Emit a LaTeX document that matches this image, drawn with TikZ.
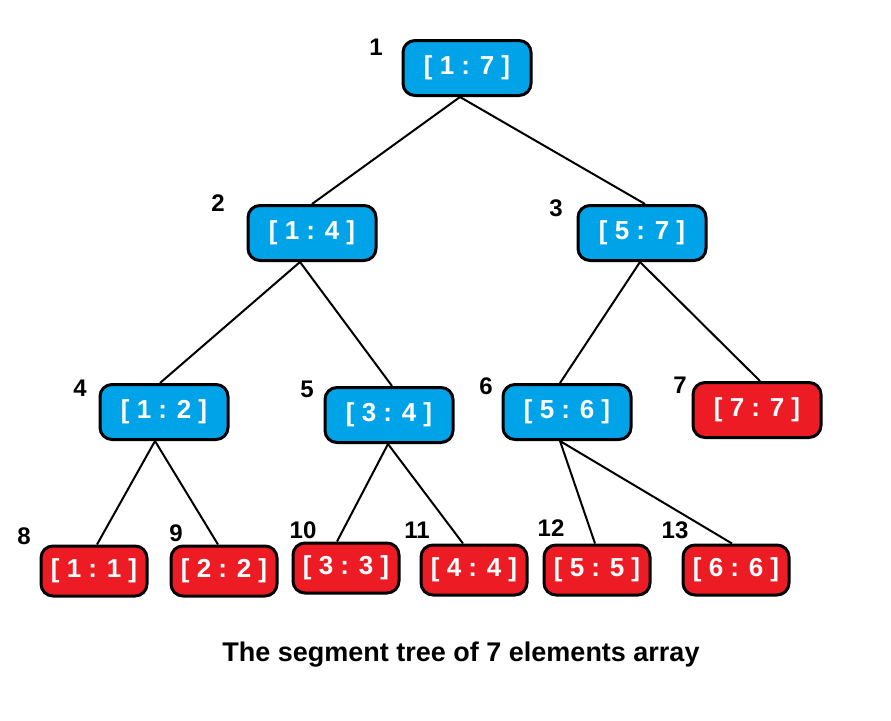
\documentclass[tikz,border=0pt]{standalone}
\usepackage{fontspec}
\setmainfont{Liberation Sans}
\definecolor{segblue}{HTML}{00A2E8}
\definecolor{segred}{HTML}{ED1C24}
\begin{document}
\begin{tikzpicture}[x=1pt,y=-1pt,
  seg/.style={draw=black, line width=3pt, rounded corners=12pt, text=white,
    font=\fontsize{26}{26}\selectfont\bfseries, inner sep=0pt},
  inner/.style={seg, fill=segblue, minimum width=128pt, minimum height=55pt},
  leaf/.style={seg, fill=segred, minimum width=106pt, minimum height=50pt},
  idx/.style={font=\fontsize{24}{24}\selectfont\bfseries, inner sep=0pt},
  edge/.style={line width=2pt, black}]
\useasboundingbox (0,0) rectangle (891,720);
% internal nodes
\node[inner] (n1) at (467,68) {[ 1 : 7 ]};
\node[inner] (n2) at (312,233) {[ 1 : 4 ]};
\node[inner] (n3) at (642,233) {[ 5 : 7 ]};
\node[inner] (n4) at (164,412) {[ 1 : 2 ]};
\node[inner] (n5) at (389,415) {[ 3 : 4 ]};
\node[inner] (n6) at (567,412) {[ 5 : 6 ]};
\node[inner, fill=segred] (n7) at (757,410) {[ 7 : 7 ]};
% leaves
\node[leaf] (n8) at (94,571) {[ 1 : 1 ]};
\node[leaf] (n9) at (224,571) {[ 2 : 2 ]};
\node[leaf] (n10) at (346,568) {[ 3 : 3 ]};
\node[leaf] (n11) at (474,570) {[ 4 : 4 ]};
\node[leaf] (n12) at (597,570) {[ 5 : 5 ]};
\node[leaf] (n13) at (736,570) {[ 6 : 6 ]};
% index labels
\node[idx] (l1) at (376,47) {1};
\node[idx] (l2) at (218,203) {2};
\node[idx] (l3) at (556,208) {3};
\node[idx] (l4) at (80,388) {4};
\node[idx] (l5) at (307,389) {5};
\node[idx] (l6) at (486,386) {6};
\node[idx] (l7) at (680,385) {7};
\node[idx] (l8) at (24,536) {8};
\node[idx] (l9) at (176,533) {9};
\node[idx] (l10) at (303,530) {10};
\node[idx] (l11) at (417,530) {11};
\node[idx] (l12) at (551,528) {12};
\node[idx] (l13) at (675,530) {13};
% edges
\draw[edge] ([xshift=-7pt]n1.south) -- (n2.north);
\draw[edge] ([xshift=-7pt]n1.south) -- ([xshift=3pt]n3.north);
\draw[edge] ([xshift=-12pt]n2.south) -- ([xshift=-4pt]n4.north);
\draw[edge] ([xshift=-12pt]n2.south) -- ([xshift=3pt]n5.north);
\draw[edge] ([xshift=-2pt]n3.south) -- ([xshift=-7pt]n6.north);
\draw[edge] ([xshift=-2pt]n3.south) -- ([xshift=3pt]n7.north);
\draw[edge] ([xshift=-9pt]n4.south) -- ([xshift=3pt]n8.north);
\draw[edge] ([xshift=-9pt]n4.south) -- ([xshift=-6pt]n9.north);
\draw[edge] ([xshift=-1pt]n5.south) -- ([xshift=-9pt]n10.north);
\draw[edge] ([xshift=-1pt]n5.south) -- ([xshift=-11pt]n11.north);
\draw[edge] ([xshift=-7pt]n6.south) -- ([xshift=-2pt]n12.north);
\draw[edge] ([xshift=-7pt]n6.south) -- ([xshift=-4pt]n13.north);
% caption
\node[font=\fontsize{27}{27}\selectfont\bfseries, inner sep=0pt] (cap) at (461,655) {The segment tree of 7 elements array};
\end{tikzpicture}
\end{document}
